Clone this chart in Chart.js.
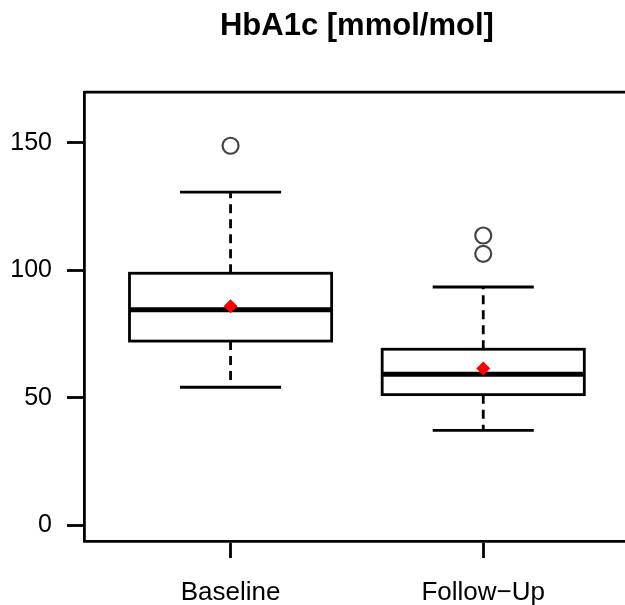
<!DOCTYPE html>
<html>
<head>
<meta charset="utf-8">
<script src="https://cdn.jsdelivr.net/npm/chart.js@4/dist/chart.umd.min.js"></script>
<style>
  html, body { margin: 0; padding: 0; background: #fff; overflow: hidden; }
  #wrap { width: 625px; height: 605px; overflow: hidden; }
</style>
</head>
<body>
<div id="wrap"><canvas id="chart" width="640" height="605"></canvas></div>
<script>
// data
var categories  = ['Baseline', 'Follow\u2212Up'];
var whiskerLow  = [54.2, 37.3];
var q1          = [72.3, 51.3];
var median      = [84.6, 59.3];
var q3          = [98.9, 69.1];
var whiskerHigh = [130.7, 93.5];
var means       = [86.0, 61.5];
var outliers    = [[148.9], [113.7, 106.5]];
var yTicks      = [0, 50, 100, 150];

var FONT = "'Liberation Sans', Arial, sans-serif";
var LW = 2.8;

var outlierPoints = [];
outliers.forEach(function(list, i){
    list.forEach(function(v){ outlierPoints.push({x: i + 1, y: v}); });
});
var meanPoints = means.map(function(v, i){ return {x: i + 1, y: v}; });

// boxes, whiskers and caps, drawn through the chart scales
var boxPlugin = {
    id: 'boxes',
    beforeDatasetsDraw: function(chart){
        var ctx = chart.ctx;
        var xs = chart.scales.x, ys = chart.scales.y;
        ctx.save();
        ctx.strokeStyle = '#000';
        for (var i = 0; i < categories.length; i++) {
            var xc = xs.getPixelForValue(i + 1);
            var bw = xs.getPixelForValue(i + 1.4) - xc;   // box half width
            var cw = xs.getPixelForValue(i + 1.2) - xc;   // cap half width
            var yq1 = ys.getPixelForValue(q1[i]);
            var yq3 = ys.getPixelForValue(q3[i]);
            var ylo = ys.getPixelForValue(whiskerLow[i]);
            var yhi = ys.getPixelForValue(whiskerHigh[i]);
            var ymd = ys.getPixelForValue(median[i]);

            // whiskers (dashed)
            ctx.lineWidth = LW;
            ctx.setLineDash([9, 6]);
            ctx.beginPath();
            ctx.moveTo(xc, yq3); ctx.lineTo(xc, yhi);
            ctx.moveTo(xc, yq1); ctx.lineTo(xc, ylo);
            ctx.stroke();
            ctx.setLineDash([]);

            // caps
            ctx.beginPath();
            ctx.moveTo(xc - cw, yhi); ctx.lineTo(xc + cw, yhi);
            ctx.moveTo(xc - cw, ylo); ctx.lineTo(xc + cw, ylo);
            ctx.stroke();

            // box
            ctx.fillStyle = '#fff';
            ctx.fillRect(xc - bw, yq3, 2 * bw, yq1 - yq3);
            ctx.strokeRect(xc - bw, yq3, 2 * bw, yq1 - yq3);

            // median
            ctx.lineWidth = 5;
            ctx.beginPath();
            ctx.moveTo(xc - bw, ymd); ctx.lineTo(xc + bw, ymd);
            ctx.stroke();
        }
        ctx.restore();
    },
    afterDraw: function(chart){
        // top and right edge of the frame
        var a = chart.chartArea, ctx = chart.ctx;
        ctx.save();
        ctx.strokeStyle = '#000';
        ctx.lineWidth = LW;
        ctx.beginPath();
        ctx.moveTo(a.left, a.top); ctx.lineTo(a.right, a.top); ctx.lineTo(a.right, a.bottom);
        ctx.stroke();
        ctx.restore();
    }
};

var myChart = new Chart(document.getElementById('chart').getContext('2d'), {
    type: 'scatter',
    data: {
        datasets: [{
            label: 'outliers',
            data: outlierPoints,
            pointStyle: 'circle',
            pointRadius: 8,
            pointBorderWidth: 2.2,
            pointBorderColor: '#444',
            pointBackgroundColor: 'rgba(0,0,0,0)'
        }, {
            label: 'mean',
            data: meanPoints,
            pointStyle: 'rectRot',
            pointRadius: 7,
            pointBorderWidth: 0,
            pointBackgroundColor: '#ff0000',
            pointBorderColor: '#ff0000'
        }]
    },
    options: {
        responsive: false,
        animation: false,
        devicePixelRatio: 1,
        layout: { padding: { top: 0, right: 10, left: 0, bottom: 0 } },
        plugins: {
            legend: { display: false },
            tooltip: { enabled: false },
            title: {
                display: true,
                text: 'HbA1c [mmol/mol]',
                fullSize: false,
                color: '#000',
                font: { family: FONT, size: 31, weight: 'bold' },
                padding: { top: 8, bottom: 47 }
            }
        },
        scales: {
            x: {
                type: 'linear',
                min: 0.42,
                max: 2.58,
                afterBuildTicks: function(scale){
                    scale.ticks = categories.map(function(c, i){ return {value: i + 1}; });
                },
                afterFit: function(scale){ scale.height = 64; },
                ticks: {
                    color: '#000',
                    padding: 19,
                    font: { family: FONT, size: 26 },
                    maxRotation: 0,
                    callback: function(v){ return categories[v - 1]; }
                },
                grid: { drawOnChartArea: false, tickLength: 17, tickWidth: LW, tickColor: '#000' },
                border: { display: true, color: '#000', width: LW }
            },
            y: {
                min: -6.1,
                max: 169.9,
                afterBuildTicks: function(scale){
                    scale.ticks = yTicks.map(function(v){ return {value: v}; });
                },
                afterFit: function(scale){ scale.width = 84; },
                ticks: {
                    color: '#000',
                    padding: 15,
                    font: { family: FONT, size: 25 }
                },
                grid: { drawOnChartArea: false, tickLength: 17, tickWidth: LW, tickColor: '#000' },
                border: { display: true, color: '#000', width: LW }
            }
        }
    },
    plugins: [boxPlugin]
});
</script>
</body>
</html>
